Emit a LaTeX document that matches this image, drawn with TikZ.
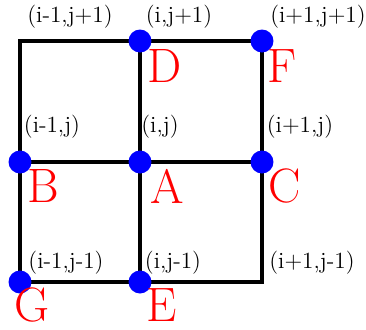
\documentclass[tikz,border=0pt]{standalone}
\usepackage{tikz}
\usepackage{xcolor}
\usetikzlibrary{positioning}
\definecolor{nodeblue}{HTML}{0000FF}
\definecolor{nodered}{HTML}{FF0000}

\tikzset{
  gridline/.style={black, line width=1.8pt},
  gridpt/.style={circle, fill=nodeblue, inner sep=0pt, minimum size=0.46cm},
  idx/.style={black, font=\fontsize{13.2}{15}\selectfont, inner sep=0pt},
  letter/.style={nodered, font=\fontsize{27.5}{30}\selectfont, inner sep=0pt},
}

\begin{document}
\begin{tikzpicture}[x=0.02cm, y=-0.02cm]
        \useasboundingbox (0,0) rectangle (366,329);
        % grid points
        \coordinate (TL) at (20,41);
        \coordinate (D)  at (140,41);
        \coordinate (F)  at (262,41);
        \coordinate (B)  at (20,162);
        \coordinate (A)  at (140,162);
        \coordinate (C)  at (262,162);
        \coordinate (G)  at (20,282);
        \coordinate (E)  at (140,282);
        \coordinate (BR) at (262,282);
        % grid lines
        \draw[gridline] (TL) -- (F) -- (BR) -- (G) -- cycle;
        \draw[gridline] (D) -- (E);
        \draw[gridline] (B) -- (C);
        % dots
        \foreach \p in {D, F, B, A, C, G, E}
          \node[gridpt] (dot\p) at (\p) {};
        % index labels
        \node[idx] (iD)  at (70,17)   {(i-1,j+1)};
        \node[idx] (iD2) at (179,17)  {(i,j+1)};
        \node[idx] (iF)  at (318,17)  {(i+1,j+1)};
        \node[idx] (iB)  at (52,127)  {(i-1,j)};
        \node[idx] (iA)  at (160,127) {(i,j)};
        \node[idx] (iC)  at (300,127) {(i+1,j)};
        \node[idx] (iG)  at (66,263)  {(i-1,j-1)};
        \node[idx] (iE)  at (173,263) {(i,j-1)};
        \node[idx] (iBR) at (312,263) {(i+1,j-1)};
        % point names
        \node[letter] (lD) at (165,66)  {D};
        \node[letter] (lF) at (282,66)  {F};
        \node[letter] (lB) at (43,186)  {B};
        \node[letter] (lA) at (167,186) {A};
        \node[letter] (lC) at (285,186) {C};
        \node[letter] (lG) at (32,305)  {G};
        \node[letter] (lE) at (162,305) {E};
      \end{tikzpicture}
\end{document}
